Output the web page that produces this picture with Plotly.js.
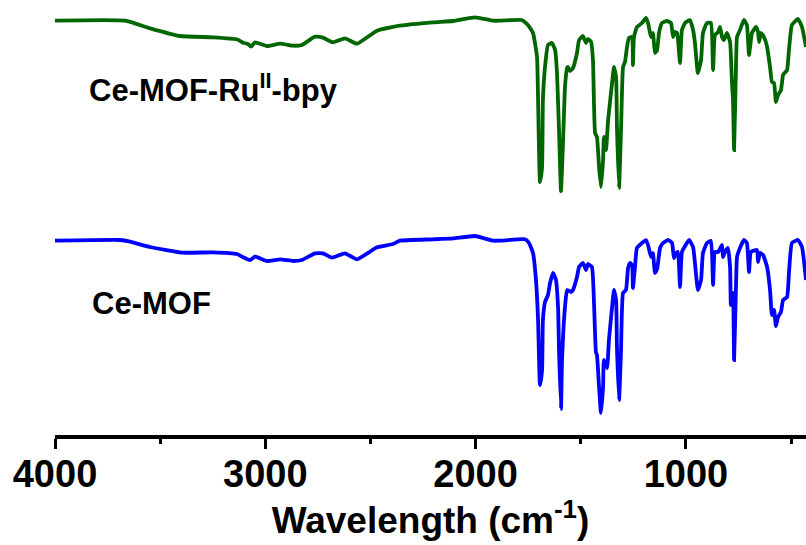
<!DOCTYPE html>
<html>
<head>
<meta charset="utf-8">
<script src="https://cdn.plot.ly/plotly-3.0.1.min.js"></script>
<style>html,body{margin:0;padding:0;background:#fff;}#chart{width:806px;height:545px;}</style>
</head>
<body>
<div id="chart"></div>
<script>
// Wavenumbers (cm-1) and transmittance (a.u., stacked)
const wnRu = [4000,3667,3548,3406,3249,3135,3106,3082,3068,3049,2992,2930,2868,2826,2764,2726,2678,2621,2564,2469,2360,2203,2107,2003,1917,1884,
  1781,1751,1727,1708,1703,1694,1684,1680,1670,1656,1637,1622,1613,1603,1594,1584,1575,1565,1561,1551,1537,1518,1508,1489,1475,1466,1451,1442,
  1432,1423,1413,1404,1394,1390,1380,1370,1351,1342,1332,1328,1318,1309,1299,1290,1280,1271,1256,1252,1247,1233,1209,1190,1180,1166,1157,1147,
  1137,1128,1114,1090,1071,1061,1052,1042,1028,1019,1004,981,966,957,943,928,919,900,881,871,862,847,838,828,819,805,790,781,776,771,762,757,
  743,724,710,700,686,667,657,652,643,629,614,600,591,581,572,562,548,538,519,510,496,467,448,429];
const tRu = [415.3,415.3,407.7,400,398.7,396.7,393.3,392,389.3,393.7,390,392.3,390.3,391,399.3,398.3,393.7,397.7,392.3,405.3,410.3,413.7,415,418.7,415.3,415.3,
  416,411,403,379,336,254,269,336,369,391,393,386,363,303,245,296,349,368,369,365,368,383,396,400,393,397,394,376,
  303,299,269,249,276,299,286,316,353,369,359,309,248,303,369,374,389,398,399,371,399,409,413,418,413,399,403,383,
  386,403,413,415,413,399,404,403,373,406,413,416,406,393,363,376,403,413,413,366,401,404,409,399,396,403,394,353,336,286,369,399,
  406,416,411,381,403,409,404,394,403,399,389,369,354,353,334,341,346,361,366,386,411,417,409,389];

const wnMOF = [4000,3691,3643,3548,3391,3249,3135,3106,3073,3049,2992,2930,2868,2826,2764,2726,2683,2621,2564,2469,2393,2360,2203,2107,2003,1917,1884,
  1765,1746,1727,1713,1703,1694,1684,1680,1670,1656,1646,1632,1618,1608,1603,1594,1589,1575,1565,1546,1537,1518,1508,1489,1475,1466,1447,1437,
  1428,1423,1413,1404,1394,1390,1375,1366,1351,1342,1332,1328,1318,1309,1299,1285,1275,1266,1256,1252,1242,1233,1209,1190,1180,1166,1157,1147,
  1137,1123,1109,1085,1066,1057,1047,1038,1028,1019,1004,985,966,957,943,928,919,900,881,871,862,847,828,824,814,800,790,786,776,771,762,757,
  743,724,710,700,691,662,657,648,633,614,600,591,581,572,562,548,538,519,510,496,467,448,429];
const tMOF = [195.3,196,194.3,189,183.3,183.7,182,178.7,176,179.3,175,176.7,175,176,182.7,182.7,178.3,182.7,176.7,188.7,192,195.3,196.7,197.7,200,195.3,195.3,
  196.7,193,183,156,116,51,66,116,134,141,153,163,156,129,83,27,76,129,146,144,146,159,169,173,166,172,169,133,
  84,81,49,23,49,76,68,96,129,146,136,89,36,83,143,146,168,173,171,148,169,188,193,196,191,179,183,163,
  167,188,193,196,193,178,183,184,149,184,190,196,189,173,146,156,183,193,195,151,184,184,191,179,184,188,169,131,143,76,149,179,
  188,196,193,164,184,186,174,183,181,169,146,121,126,110,119,124,136,139,163,193,196,189,156];

const xTicks = [4000, 3000, 2000, 1000];
const seriesNames = ["Ce-MOF-Ru<sup>II</sup>-bpy", "Ce-MOF"];
const seriesColors = ["#006600", "#0000ff"];

const FONT = "Liberation Sans, Arial, Helvetica, sans-serif";

const traces = [
  {x: wnRu, y: tRu, name: seriesNames[0], mode: "lines", line: {color: seriesColors[0], width: 3.8, shape: "spline", smoothing: 0.4}},
  {x: wnMOF, y: tMOF, name: seriesNames[1], mode: "lines", line: {color: seriesColors[1], width: 3.8, shape: "spline", smoothing: 0.4}}
];

const layout = {
  width: 806, height: 545,
  margin: {l: 55, r: 0, t: 0, b: 110, pad: 0},
  paper_bgcolor: "#fff", plot_bgcolor: "#fff",
  showlegend: false,
  xaxis: {
    range: [4000, 429],
    tickmode: "array", tickvals: xTicks, ticktext: xTicks.map(String),
    ticks: "outside", ticklen: 10, tickwidth: 3, tickcolor: "#000",
    showline: true, linewidth: 4, linecolor: "#000",
    showgrid: false, zeroline: false,
    ticklabelstandoff: -8,
    tickfont: {family: FONT, size: 38, color: "#000", weight: "bold"},
    minor: {tickmode: "linear", tick0: 500, dtick: 1000, ticks: "outside", ticklen: 5, tickwidth: 3, tickcolor: "#000", showgrid: false},
    title: {text: "Wavelength (cm<sup>-1</sup>)", font: {family: FONT, size: 37, color: "#000", weight: "bold"}, standoff: 10}
  },
  yaxis: {visible: false, range: [1, 436], fixedrange: true},
  annotations: [
    {text: seriesNames[0], xref: "paper", yref: "paper", x: 0.0426, y: 0.797, xanchor: "left", yanchor: "middle",
     showarrow: false, font: {family: FONT, size: 31, color: "#000", weight: "bold"}},
    {text: seriesNames[1], xref: "paper", yref: "paper", x: 0.047, y: 0.303, xanchor: "left", yanchor: "middle",
     showarrow: false, font: {family: FONT, size: 31, color: "#000", weight: "bold"}}
  ]
};

Plotly.newPlot("chart", traces, layout, {displayModeBar: false, staticPlot: true});
</script>
</body>
</html>
